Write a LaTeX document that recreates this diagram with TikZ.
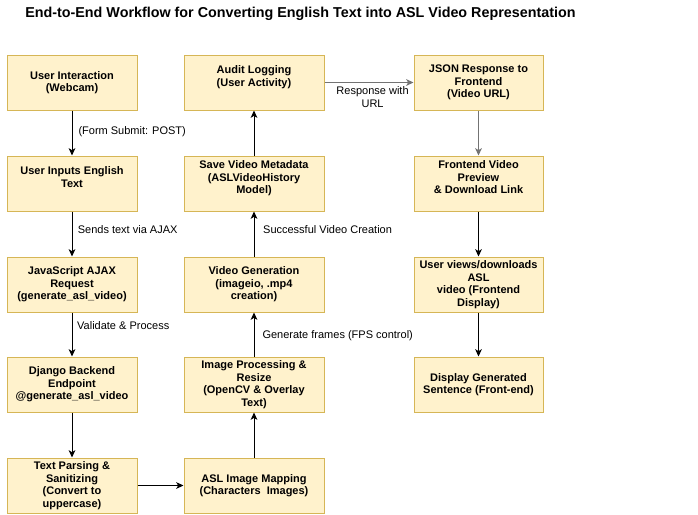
\documentclass[tikz,border=0pt]{standalone}
\usepackage{fontspec}
\setmainfont{Liberation Sans}
\usetikzlibrary{arrows.meta}
\definecolor{boxfill}{HTML}{FFF2CC}
\definecolor{boxline}{HTML}{D6B656}
\tikzset{
	stage/.style={draw=boxline, fill=boxfill, line width=0.75pt, align=center, inner sep=0pt, minimum height=41.25pt, font=\fontsize{8.25pt}{9.4pt}\selectfont\bfseries},
	colA/.style={stage, minimum width=97.5pt},
	colB/.style={stage, minimum width=105pt},
	colC/.style={stage, minimum width=96.75pt},
	flow/.style={line width=0.75pt, -{Stealth[length=5.5pt, width=5pt, inset=1.5pt]}},
	grayflow/.style={flow, draw=black!55, line width=1pt},
	lbl/.style={font=\fontsize{8.25pt}{9.4pt}\selectfont, inner sep=0pt, anchor=west},
}

\begin{document}
\begin{tikzpicture}[x=0.75pt, y=-0.75pt]
		%%%%% START %%%%%
		\useasboundingbox[fill=white] (0, 0) rectangle (698, 514);
		
		\node[font=\fontsize{10.75pt}{12pt}\selectfont\bfseries, anchor=base west, inner sep=0pt] (title) at (25, 17.5) {End-to-End Workflow for Converting English Text into ASL Video Representation};
		
		% left column
		\node[colA] (webcam) at (72, 82.5) {User Interaction\\(Webcam)};
		\node[colA] (input) at (72, 183.5) {User Inputs English\\Text\\\mbox{}};
		\node[colA] (ajax) at (72, 284.5) {JavaScript AJAX\\Request\\(generate\_asl\_video)};
		\node[colA] (django) at (72, 384.5) {Django Backend\\Endpoint\\@generate\_asl\_video};
		\node[colA] (parse) at (72, 485.5) {Text Parsing \&\\Sanitizing\\(Convert to\\uppercase)};
		
		% middle column
		\node[colB] (audit) at (254, 82.5) {Audit Logging\\(User Activity)\\\mbox{}};
		\node[colB] (metadata) at (254, 183.5) {Save Video Metadata\\(ASLVideoHistory\\Model)\\\mbox{}};
		\node[colB] (videogen) at (254, 284.5) {Video Generation\\(imageio, .mp4\\creation)};
		\node[colB] (imgproc) at (254, 384.5) {Image Processing \&\\Resize\\(OpenCV \& Overlay\\Text)};
		\node[colB] (mapping) at (254, 485.5) {ASL Image Mapping\\(Characters~ Images)};
		
		% right column
		\node[colC] (json) at (478.5, 82.5) {JSON Response to\\Frontend\\(Video URL)};
		\node[colC] (preview) at (478.5, 183.5) {Frontend Video\\Preview\\\& Download Link\\\mbox{}};
		\node[colC] (views) at (478.5, 284.5) {User views/downloads\\ASL\\video (Frontend\\Display)};
		\node[colC] (display) at (478.5, 384.5) {Display Generated\\Sentence (Front-end)};
		
		% arrows
		\draw[flow] (webcam) -- node[lbl, pos=0.46, xshift=4.5pt] {(Form Submit: POST)} (input);
		\draw[flow] (input) -- node[lbl, pos=0.41, xshift=4pt] {Sends text via AJAX} (ajax);
		\draw[flow] (ajax) -- node[lbl, pos=0.3, xshift=3.5pt] {Validate \& Process} (django);
		\draw[flow] (django) -- (parse);
		\draw[flow] (parse) -- (mapping);
		\draw[flow] (mapping) -- (imgproc);
		\draw[flow] (imgproc) -- node[lbl, pos=0.47, xshift=6pt] {Generate frames (FPS control)} (videogen);
		\draw[flow] (videogen) -- node[lbl, pos=0.59, xshift=6.5pt] {Successful Video Creation} (metadata);
		\draw[flow] (metadata) -- (audit);
		\draw[grayflow] (audit) -- node[lbl, anchor=north, align=center, pos=0.54, yshift=-2.6pt] {Response with\\URL} (json);
		\draw[grayflow] (json) -- (preview);
		\draw[flow] (preview) -- (views);
		\draw[flow] (views) -- (display);
		
		%%%%% END %%%%%
	\end{tikzpicture}
\end{document}
